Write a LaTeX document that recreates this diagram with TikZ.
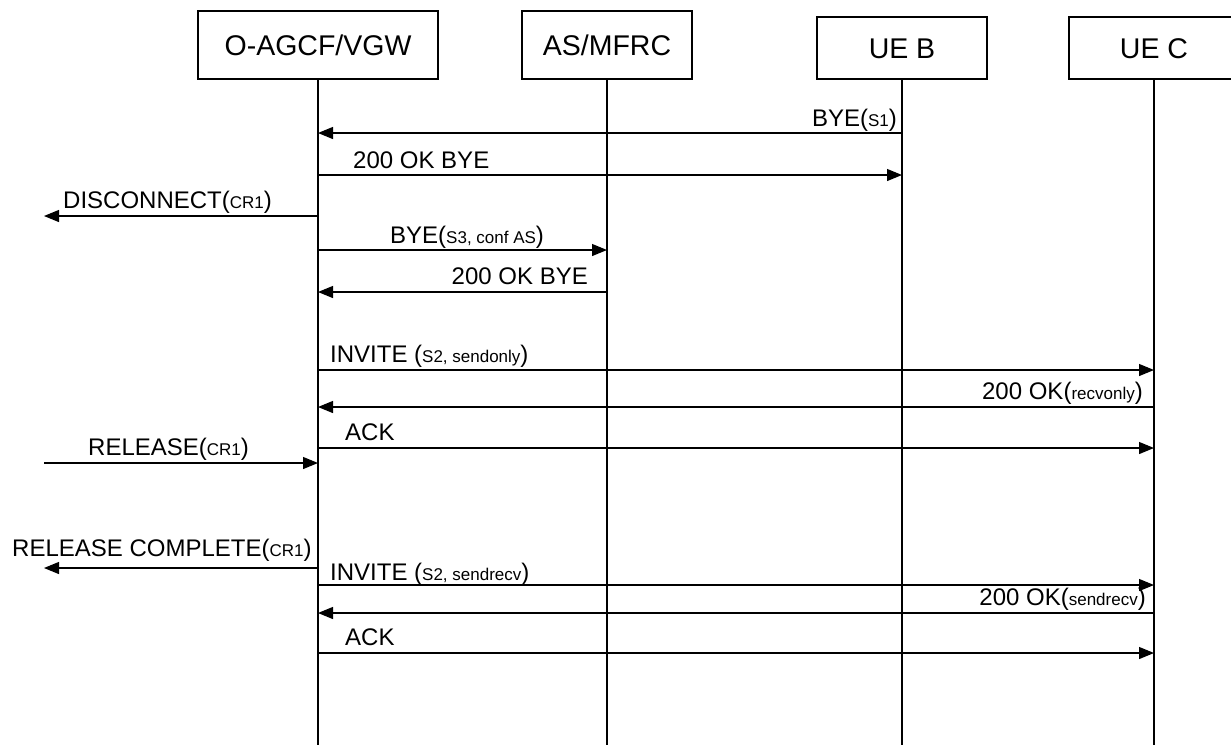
\documentclass[tikz,border=0pt]{standalone}
\usepackage{fontspec}
\setmainfont{Liberation Sans}
\usetikzlibrary{arrows.meta}
\newcommand\smtxt[1]{{\fontsize{17}{17}\selectfont #1}}
\begin{document}
\begin{tikzpicture}[x=1pt,y=-1pt,
  entity/.style={draw, line width=1.2pt, inner sep=0pt, font=\fontsize{28.5}{28.5}\selectfont, text height=20pt, text depth=0pt},
  life/.style={line width=1.2pt},
  msg/.style={line width=1.2pt, -{Triangle[length=15pt,width=12pt]}},
  lbl/.style={inner sep=0pt, font=\fontsize{24}{24}\selectfont}]
\useasboundingbox (0,0) rectangle (1231,745);
% entities
\node[entity, minimum width=240pt, minimum height=68pt] (agcf) at (318,45) {O-AGCF/VGW};
\node[entity, minimum width=170pt, minimum height=68pt] (as) at (607,45) {AS/MFRC};
\node[entity, minimum width=170pt, minimum height=62pt] (ueb) at (902,48) {UE B};
\node[entity, minimum width=170pt, minimum height=62pt] (uec) at (1154,48) {UE C};
% lifeline ends
\coordinate (agcfend) at (318,745);
\coordinate (asend) at (607,745);
\coordinate (uebend) at (902,745);
\coordinate (uecend) at (1154,745);
\coordinate (left) at (44,0);
\draw[life] (agcf.south) -- (agcfend);
\draw[life] (as.south) -- (asend);
\draw[life] (ueb.south) -- (uebend);
\draw[life] (uec.south) -- (uecend);
% messages
\draw[msg] (ueb.south |- 0,133) -- (agcf.south |- 0,133);
\node[lbl, anchor=base east] (l1) at (897,126) {BYE(\smtxt{S1})};
\draw[msg] (agcf.south |- 0,175) -- (ueb.south |- 0,175);
\node[lbl, anchor=base west] (l2) at (353,168) {200 OK BYE};
\draw[msg] (agcf.south |- 0,216) -- (left |- 0,216);
\node[lbl, anchor=base west] (l3) at (63,208) {DISCONNECT(\smtxt{CR1})};
\draw[msg] (agcf.south |- 0,250) -- (as.south |- 0,250);
\node[lbl, anchor=base west] (l4) at (390,243) {BYE(\smtxt{S3, conf AS})};
\draw[msg] (as.south |- 0,292) -- (agcf.south |- 0,292);
\node[lbl, anchor=base east] (l5) at (588,284) {200 OK BYE};
\draw[msg] (agcf.south |- 0,370) -- (uec.south |- 0,370);
\node[lbl, anchor=base west] (l6) at (330,362) {INVITE (\smtxt{S2, sendonly})};
\draw[msg] (uec.south |- 0,407) -- (agcf.south |- 0,407);
\node[lbl, anchor=base east] (l7) at (1143,399) {200 OK(\smtxt{recvonly})};
\draw[msg] (agcf.south |- 0,448) -- (uec.south |- 0,448);
\node[lbl, anchor=base west] (l8) at (345,440) {ACK};
\draw[msg] (left |- 0,463) -- (agcf.south |- 0,463);
\node[lbl, anchor=base west] (l9) at (88,455) {RELEASE(\smtxt{CR1})};
\draw[msg] (agcf.south |- 0,568) -- (left |- 0,568);
\node[lbl, anchor=base west] (l10) at (12,556) {RELEASE COMPLETE(\smtxt{CR1})};
\draw[msg] (agcf.south |- 0,585) -- (uec.south |- 0,585);
\node[lbl, anchor=base west] (l11) at (330,580) {INVITE (\smtxt{S2, sendrecv})};
\draw[msg] (uec.south |- 0,613) -- (agcf.south |- 0,613);
\node[lbl, anchor=base east] (l12) at (1146,605) {200 OK(\smtxt{sendrecv})};
\draw[msg] (agcf.south |- 0,653) -- (uec.south |- 0,653);
\node[lbl, anchor=base west] (l13) at (345,645) {ACK};
\end{tikzpicture}
\end{document}
